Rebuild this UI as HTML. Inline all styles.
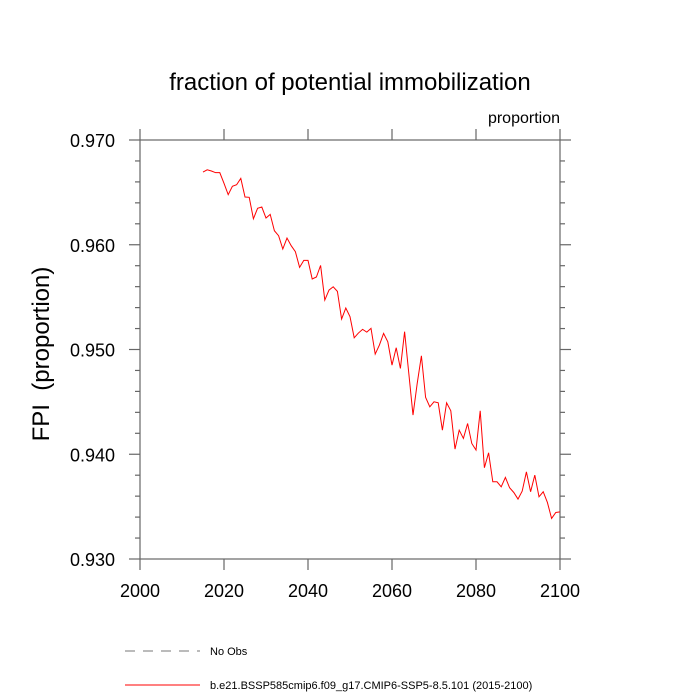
<!DOCTYPE html>
<html><head><meta charset="utf-8"><style>
html,body{margin:0;padding:0;background:#fff;}
svg{display:block;font-family:"Liberation Sans",sans-serif;}
</style></head><body>
<svg id="chart" width="700" height="700" viewBox="0 0 700 700">
<text x="350" y="90" text-anchor="middle" font-size="24">fraction of potential immobilization</text>
<text x="560" y="123" text-anchor="end" font-size="16">proportion</text>
<text transform="translate(49,354) rotate(-90)" text-anchor="middle" font-size="24" style="white-space:pre">FPI  (proportion)</text>
<rect x="140" y="140" width="420" height="419" fill="none" stroke="#666" stroke-width="1.2"/>
<g id="axes"></g>
<path id="series" fill="none" stroke="#ff0000" stroke-width="1"/>
<line x1="125" y1="651" x2="200" y2="651" stroke="#777" stroke-dasharray="10,8"/>
<text x="210" y="655" font-size="11">No Obs</text>
<line x1="125" y1="685" x2="200" y2="685" stroke="#ff0000"/>
<text x="210" y="689" font-size="11">b.e21.BSSP585cmip6.f09_g17.CMIP6-SSP5-8.5.101 (2015-2100)</text>
</svg>
<script>
const years = [];
for (let y = 2015; y <= 2100; y++) years.push(y);
const fpiValues = [0.96694,0.96716,0.96704,0.96688,0.96688,0.96586,0.96478,0.96558,0.96573,0.96634,
0.96456,0.96453,0.96248,0.96348,0.96360,0.96255,0.96290,0.96134,0.96086,0.95959,
0.96064,0.95991,0.95933,0.95784,0.95851,0.95851,0.95673,0.95692,0.95803,0.95472,
0.95567,0.95599,0.95555,0.95291,0.95396,0.95313,0.95112,0.95157,0.95192,0.95166,
0.95202,0.94956,0.95042,0.95154,0.95074,0.94851,0.95017,0.94819,0.95170,0.94772,
0.94374,0.94676,0.94940,0.94543,0.94453,0.94501,0.94491,0.94230,0.94491,0.94415,
0.94049,0.94230,0.94151,0.94294,0.94103,0.94040,0.94415,0.93871,0.94014,0.93737,
0.93737,0.93689,0.93779,0.93680,0.93635,0.93572,0.93648,0.93832,0.93642,0.93801,
0.93594,0.93642,0.93540,0.93387,0.93444,0.93450];
const xTickLabels = [2000,2020,2040,2060,2080,2100];
const yTickLabels = ["0.930","0.940","0.950","0.960","0.970"];
const X0=140,X1=560,Y0=559,Y1=140;
const xs = v => X0 + (v-2000)/100*(X1-X0);
const ys = v => Y0 - (v-0.930)/0.040*(Y0-Y1);
const NS="http://www.w3.org/2000/svg";
const g=document.getElementById('axes');
function ln(x1,y1,x2,y2,name){const l=document.createElementNS(NS,'line');l.setAttribute('x1',x1);l.setAttribute('y1',y1);l.setAttribute('x2',x2);l.setAttribute('y2',y2);l.setAttribute('stroke','#666');l.setAttribute('stroke-width','1.2');


g.appendChild(l);}
function tx(x,y,s,anchor,name){const t=document.createElementNS(NS,'text');t.setAttribute('x',x);t.setAttribute('y',y);t.setAttribute('text-anchor',anchor);t.setAttribute('font-size','18');t.textContent=s;


g.appendChild(t);}
xTickLabels.forEach(yr=>{const x=xs(yr);ln(x,Y0,x,Y0+11,'x-tick');ln(x,Y1,x,Y1-11,'x-tick-top');});
for(let i=0;i<=20;i++){const v=0.930+i*0.002;const y=ys(v);const L=(i%5===0)?11:5;ln(X0,y,X0-L,y,'y-tick');ln(X1,y,X1+L,y,'y-tick-right');}
xTickLabels.forEach(v=>tx(xs(v),Y0+38,String(v),'middle','x-tick-label'));
yTickLabels.forEach(v=>tx(X0-25,ys(parseFloat(v))+7,v,'end','y-tick-label'));
document.getElementById('series').setAttribute('d',fpiValues.map((v,i)=>(i?'L':'M')+xs(years[i]).toFixed(2)+' '+ys(v).toFixed(2)).join(' '));
</script>
</body></html>
